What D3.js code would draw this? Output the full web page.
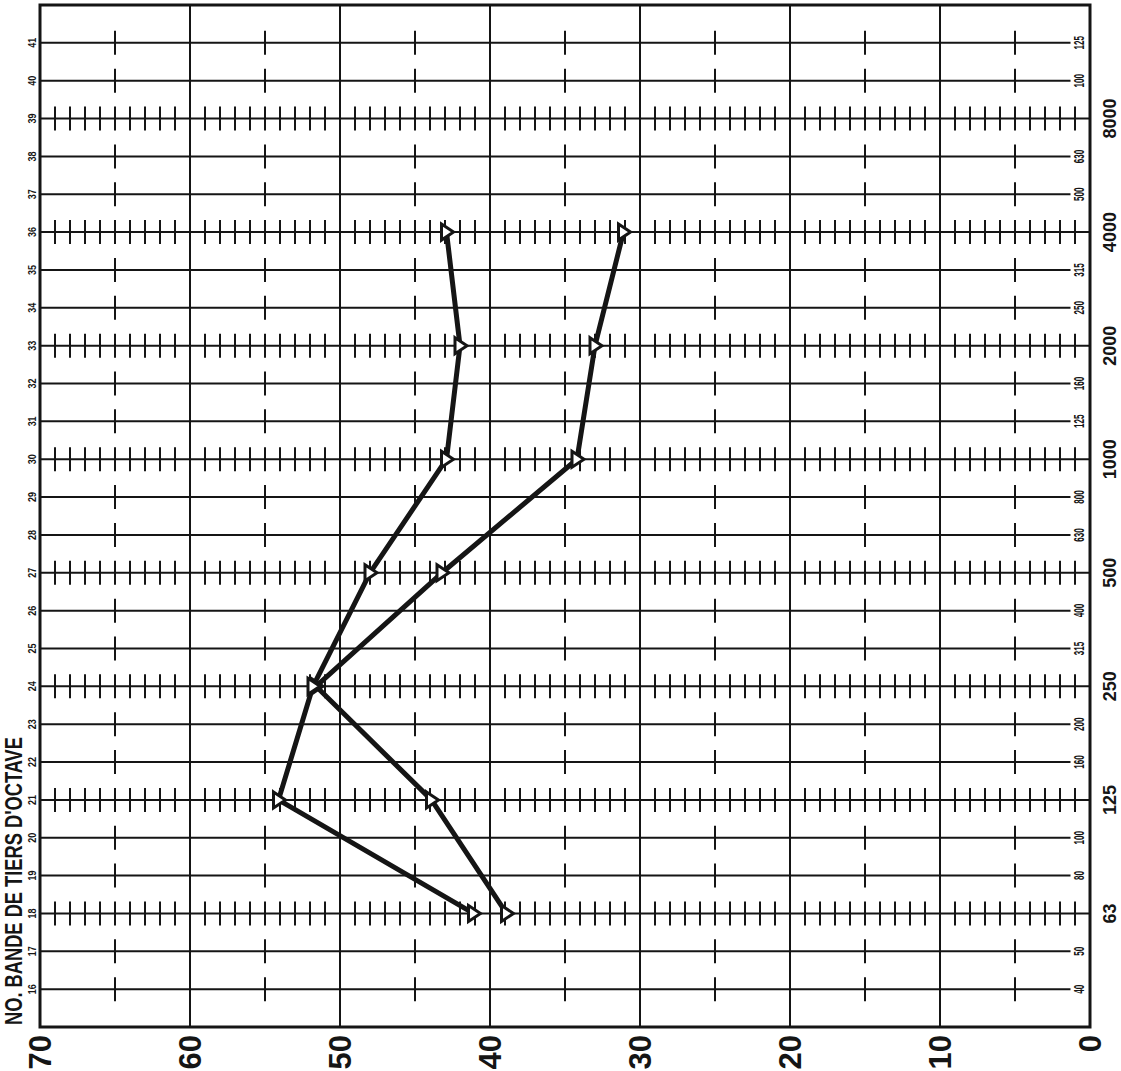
<!DOCTYPE html>
<html lang="fr">
<head>
<meta charset="utf-8">
<script src="https://d3js.org/d3.v7.min.js"></script>
<style>
  body { margin: 0; background: #fff; }
  svg text { font-family: "Liberation Sans", Arial, sans-serif; font-weight: bold; fill: #151515; }
</style>
</head>
<body>
<svg width="1121" height="1071"></svg>
<script>
// third-octave band numbers and their labels
var bands = [16, 17, 18, 19, 20, 21, 22, 23, 24, 25, 26, 27, 28, 29, 30, 31, 32, 33, 34, 35, 36, 37, 38, 39, 40, 41];
var octaveBands = [18, 21, 24, 27, 30, 33, 36, 39];
var octaveLabels = ["63", "125", "250", "500", "1000", "2000", "4000", "8000"];
var smallBands = [16, 17, 19, 20, 22, 23, 25, 26, 28, 29, 31, 32, 34, 35, 37, 38, 40, 41];
var smallLabels = ["40", "50", "80", "100", "160", "200", "315", "400", "630", "800", "125", "160", "250", "315", "500", "630", "100", "125"];
var levels = [70, 60, 50, 40, 30, 20, 10, 0];

// measured curves
var pointBands = [18, 21, 24, 27, 30, 33, 36];
var seriesA = [38.9, 43.9, 51.6, 43.2, 34.2, 33, 31.1];
var seriesB = [41.1, 54.1, 51.8, 48, 42.9, 42, 42.9];

var svg = d3.select("svg");
var ink = "#151515";

var x = d3.scaleLinear().domain([70, 0]).range([40, 1090]);
var y = d3.scaleLinear().domain([15, 42]).range([1027, 5]);

var grid = svg.append("g");

// vertical grid at every 10
grid.selectAll(".vline").data(levels).enter().append("line")
    .attr("x1", d => x(d)).attr("x2", d => x(d))
    .attr("y1", y(42)).attr("y2", y(15))
    .attr("stroke", ink).attr("stroke-width", 2);

// band lines
grid.selectAll(".hline").data(bands).enter().append("line")
    .attr("x1", x(70))
    .attr("x2", d => octaveBands.includes(d) ? x(0) : x(1.3))
    .attr("y1", d => y(d)).attr("y2", d => y(d))
    .attr("stroke", ink).attr("stroke-width", 2);

// ticks: every unit on octave bands, one per decade on the others
var unitTicks = d3.range(0, 70).filter(v => v % 10 !== 0);
var midTicks = [65, 55, 45, 35, 25, 15, 5];
bands.forEach(function(b) {
    var vals = octaveBands.includes(b) ? unitTicks : midTicks;
    grid.selectAll(".t" + b).data(vals).enter().append("line")
        .attr("x1", d => x(d)).attr("x2", d => x(d))
        .attr("y1", y(b) - 12).attr("y2", y(b) + 12)
        .attr("stroke", ink).attr("stroke-width", 2);
});

// frame
svg.append("rect")
    .attr("x", x(70)).attr("y", y(42))
    .attr("width", x(0) - x(70)).attr("height", y(15) - y(42))
    .attr("fill", "none").attr("stroke", ink).attr("stroke-width", 3);

// band numbers (left)
svg.selectAll(".bandnum").data(bands).enter().append("text")
    .attr("transform", d => `translate(32,${y(d)}) rotate(-90)`)
    .attr("text-anchor", "middle").attr("dy", "0.35em")
    .attr("font-size", 11)
    .attr("textLength", 10).attr("lengthAdjust", "spacingAndGlyphs")
    .text(d => d);

// small frequency labels (right, inside frame)
svg.selectAll(".fsmall").data(smallBands).enter().append("text")
    .attr("transform", d => `translate(1079,${y(d)}) rotate(-90)`)
    .attr("text-anchor", "middle").attr("dy", "0.35em")
    .attr("font-size", 14)
    .attr("textLength", (d, i) => smallLabels[i].length * 4.5)
    .attr("lengthAdjust", "spacingAndGlyphs")
    .text((d, i) => smallLabels[i]);

// octave frequency labels (outside frame)
svg.selectAll(".foct").data(octaveBands).enter().append("text")
    .attr("transform", d => `translate(1110,${y(d)}) rotate(-90)`)
    .attr("text-anchor", "middle").attr("dy", "0.35em")
    .attr("font-size", 18)
    .text((d, i) => octaveLabels[i]);

// level labels (bottom)
svg.selectAll(".lvl").data(levels).enter().append("text")
    .attr("transform", d => `translate(${x(d)},1035) rotate(-90)`)
    .attr("text-anchor", "end").attr("dy", "0.36em")
    .attr("font-size", 31)
    .text(d => d);

// axis title
svg.append("text")
    .attr("transform", "translate(14,1025) rotate(-90)")
    .attr("text-anchor", "start").attr("dy", "0.36em")
    .attr("font-size", 23)
    .attr("textLength", 288).attr("lengthAdjust", "spacingAndGlyphs")
    .text("NO. BANDE DE TIERS D'OCTAVE");

// curves
var line = d3.line().x(d => x(d[1])).y(d => y(d[0]));
[seriesA, seriesB].forEach(function(s) {
    var pts = pointBands.map((b, i) => [b, s[i]]);
    svg.append("path")
        .attr("d", line(pts))
        .attr("fill", "none").attr("stroke", ink)
        .attr("stroke-width", 5).attr("stroke-linejoin", "round");
    svg.selectAll(null).data(pts).enter().append("path")
        .attr("transform", d => `translate(${x(d[1])},${y(d[0])})`)
        .attr("d", "M-5,-8 L7,0 L-5,8 Z")
        .attr("fill", "#fff").attr("stroke", ink).attr("stroke-width", 3);
});
</script>
</body>
</html>
